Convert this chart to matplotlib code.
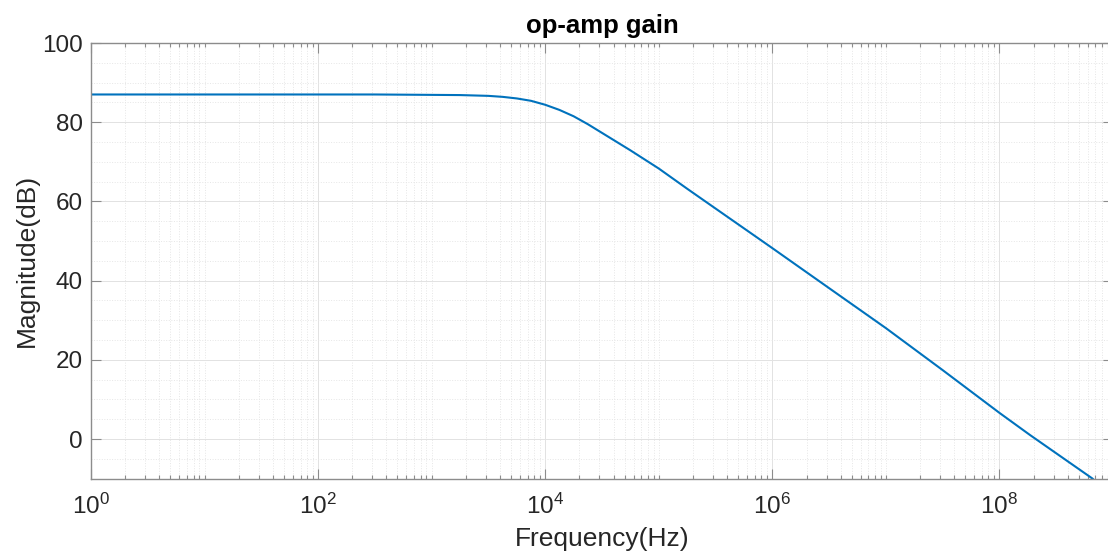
import numpy as np
import matplotlib
matplotlib.use('Agg')
import matplotlib.pyplot as plt
from matplotlib.ticker import LogLocator, LogFormatterMathtext, NullFormatter, MultipleLocator, FixedLocator

plt.rcParams['font.family'] = ['Liberation Sans', 'DejaVu Sans']
plt.rcParams['mathtext.fontset'] = 'custom'
plt.rcParams['mathtext.rm'] = 'Liberation Sans'

# values
freq_hz = [1, 10, 100, 316, 1000, 1778, 3162, 4217, 5623, 7499, 1e4, 1.334e4,
           1.778e4, 2.371e4, 3.162e4, 4.217e4, 5.623e4, 1e5, 1.778e5, 2.29e5,
           1e6, 3.16e6, 1e7, 3.16e7, 1e8, 1.86e8, 6.6e8, 8e8]
mag_db = [87.0, 87.0, 87.0, 87.0, 86.9, 86.85, 86.65, 86.4, 86.0, 85.4, 84.4, 83.1,
          81.5, 79.5, 77.3, 75.1, 72.9, 68.3, 63.2, 61.0,
          48.2, 38.1, 28.0, 17.4, 6.6, 1.0, -10.0, -12.3]

fig = plt.figure(figsize=(11.08, 5.6), dpi=100)
# axes run slightly past the right edge of the canvas, like the reference
ax = fig.add_axes([91/1108, 81.4/560, 1022/1108, 435.6/560])

ax.semilogx(freq_hz, mag_db, color='#0072BD', lw=1.5)
ax.set_xlim(1, 1e9)
ax.set_ylim(-10, 100)

ax.xaxis.set_major_locator(FixedLocator([1, 1e2, 1e4, 1e6, 1e8]))
ax.xaxis.set_major_formatter(LogFormatterMathtext(base=10))
ax.xaxis.set_minor_locator(LogLocator(base=10, subs=np.arange(1, 10), numticks=20))
ax.xaxis.set_minor_formatter(NullFormatter())
ax.yaxis.set_major_locator(MultipleLocator(20))
ax.yaxis.set_minor_locator(MultipleLocator(5))

ax.grid(True, which='major', color='#e2e2e2', lw=0.7, ls='-')
ax.grid(True, which='minor', color='#e6e6e6', lw=0.7, ls=':')
ax.set_axisbelow(True)

ax.tick_params(which='both', direction='in', top=True, right=True,
               colors='#8c8c8c', labelcolor='#262626', labelsize=17.5)
ax.tick_params(which='major', length=7, width=0.8)
ax.tick_params(which='minor', length=3, width=0.8)
ax.tick_params(axis='y', which='minor', length=0)
ax.tick_params(axis='x', pad=11)
ax.tick_params(axis='y', pad=6)
for s in ax.spines.values():
    s.set_color('#8c8c8c')
    s.set_linewidth(1.0)

ax.set_xlabel('Frequency(Hz)', fontsize=19, color='#262626', labelpad=6)
ax.set_ylabel('Magnitude(dB)', fontsize=19, color='#262626', labelpad=2)
ax.set_title('op-amp gain', fontsize=18.5, fontweight='bold', color='black', pad=7)

fig.savefig('out.png', dpi=100)
